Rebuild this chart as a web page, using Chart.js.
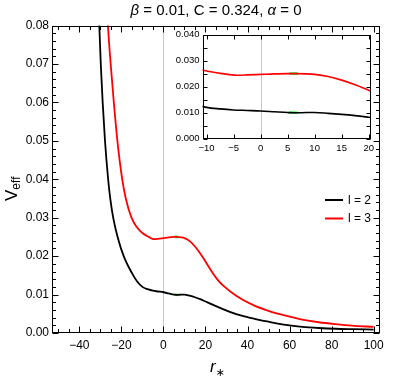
<!DOCTYPE html>
<html><head><meta charset="utf-8">
<script src="https://cdn.jsdelivr.net/npm/chart.js@4/dist/chart.umd.min.js"></script>
<style>
html,body{margin:0;padding:0;background:#fff;}
#wrap{position:relative;width:412px;height:378px;overflow:hidden;}
canvas{position:absolute;}
</style>
</head><body>
<div id="wrap">
<canvas id="main" width="412" height="378" style="left:0;top:0"></canvas>
<canvas id="inset" width="218" height="130" style="left:160px;top:26px"></canvas>
</div>
<script>
// ---- data ----
const rL2 = [-31.0,-30.5,-29.8,-28.9,-27.8,-26.3,-25.3,-23.9,-21.8,-18.9,-14.9,-12.5,-10.0,-7.5,-5.0,-2.5,0,2.5,5.0,6.5,8.5,10.0,12.5,15.0,17.5,20.0,22.0,25.0,28.3,31.6,34.6,38.5,42.5,46.5,50.3,58.2,66.0,73.9,81.8,90.0,100.0];
const vL2 = [0.0880,0.0800,0.0700,0.0600,0.0500,0.0400,0.0350,0.0300,0.0250,0.0200,0.0155,0.0134,0.0120,0.0114,0.0110,0.0108,0.0106,0.0103,0.0100,0.0099,0.0100,0.0100,0.0097,0.0093,0.0088,0.0082,0.0077,0.0070,0.0062,0.0055,0.0049,0.0043,0.0038,0.0033,0.0029,0.0021,0.0016,0.0013,0.0011,0.0010,0.0009];
const rL3 = [-27.0,-26.4,-25.1,-23.6,-21.9,-19.6,-17.9,-15.2,-12.6,-10.0,-7.0,-4.5,-2.5,0,2.5,5.0,6.5,8.5,10.0,12.5,15.0,17.5,20.0,23.6,26.0,28.3,34.6,42.5,50.3,58.2,66.0,73.9,81.8,89.6,100.0];
const vL3 = [0.0860,0.0800,0.0700,0.0600,0.0500,0.0400,0.0350,0.0300,0.0275,0.0260,0.0250,0.0244,0.0245,0.0247,0.0249,0.0250,0.0250,0.0249,0.0247,0.0239,0.0225,0.0207,0.0186,0.0155,0.0137,0.0124,0.0097,0.0073,0.0057,0.0045,0.0035,0.0028,0.0023,0.0019,0.0016];
const rPeak = [5.3, 6.9];
const vPeakL2 = [0.0100, 0.0099];
const vPeakL3 = [0.0250, 0.0250];
const seriesLabels = ['l = 2', 'l = 3'];
const seriesColors = ['#000000', '#ff0000'];
const peakColor = '#2cf02c';
const mainXTicks = [-40,-20,0,20,40,60,80,100];
const mainYTicks = [0,0.01,0.02,0.03,0.04,0.05,0.06,0.07,0.08];
const insetXTicks = [-10,-5,0,5,10,15,20];
const insetYTicks = [0,0.005,0.01,0.015,0.02,0.025,0.03,0.035,0.04];
const mainXMinor = [-50,-45,-35,-30,-25,-15,-10,-5,5,10,15,25,30,35,45,50,55,65,70,75,85,90,95];
const mainYMinor = [];
for (let i = 1; i < 40; i++) if (i % 5) mainYMinor.push(i * 0.002);

const FONT = '"Liberation Sans", Arial, sans-serif';
Chart.defaults.font.family = FONT;
Chart.defaults.color = '#000';

const pts = (xs, ys) => xs.map((x, i) => ({x: x, y: ys[i]}));
const fmtX = v => (v < 0 ? '\u2212' + Math.abs(v) : String(v));

function makeDatasets(lw, peakLw) {
  return [
    {label: seriesLabels[0], data: pts(rL2, vL2), borderColor: seriesColors[0], borderWidth: lw, pointRadius: 0, cubicInterpolationMode: 'monotone', clip: 0},
    {label: seriesLabels[1], data: pts(rL3, vL3), borderColor: seriesColors[1], borderWidth: lw, pointRadius: 0, cubicInterpolationMode: 'monotone', clip: 0},
    {label: 'peak2', data: pts(rPeak, vPeakL2), borderColor: peakColor, borderWidth: peakLw, pointRadius: 0, clip: 0},
    {label: 'peak3', data: pts(rPeak, vPeakL3), borderColor: peakColor, borderWidth: peakLw, pointRadius: 0, clip: 0}
  ];
}

function framePlugin(id, o) {
  return {
    id: id,
    beforeDatasetsDraw(chart) {
      const {ctx, chartArea: a, scales: {x}} = chart;
      const px = Math.round(x.getPixelForValue(0)) + 0.5;
      ctx.save();
      ctx.strokeStyle = '#c8c8c8';
      ctx.lineWidth = 1;
      ctx.beginPath(); ctx.moveTo(px, a.top); ctx.lineTo(px, a.bottom); ctx.stroke();
      ctx.restore();
    },
    afterDatasetsDraw(chart) {
      const {ctx, chartArea: a, scales: {x, y}} = chart;
      ctx.save();
      ctx.strokeStyle = '#000';
      ctx.lineWidth = 1;
      const L = Math.round(a.left) + 0.5, R = Math.round(a.right) - 0.5;
      const T = Math.round(a.top) + 0.5, B = Math.round(a.bottom) - 0.5;
      ctx.beginPath();
      const tx = (v, len) => { const p = Math.round(x.getPixelForValue(v)) + 0.5; ctx.moveTo(p, B); ctx.lineTo(p, B - len); ctx.moveTo(p, T); ctx.lineTo(p, T + len); };
      const ty = (v, len) => { const p = Math.round(y.getPixelForValue(v)) + 0.5; ctx.moveTo(L, p); ctx.lineTo(L + len, p); ctx.moveTo(R, p); ctx.lineTo(R - len, p); };
      o.xMajor.forEach(v => tx(v, o.major));
      o.yMajor.forEach(v => ty(v, o.major));
      (o.xMinor || []).forEach(v => tx(v, o.minor));
      (o.yMinor || []).forEach(v => ty(v, o.minor));
      ctx.stroke();
      ctx.strokeRect(L, T, R - L, B - T);
      ctx.restore();
    }
  };
}

const textPlugin = {
  id: 'texts',
  afterDraw(chart) {
    const ctx = chart.ctx;
    ctx.save();
    ctx.fillStyle = '#000';
    const parts = [
      ['\u03B2', 'italic 15px ' + FONT],
      [' = 0.01, C = 0.324, ', '15px ' + FONT],
      ['\u03B1', 'italic 15px ' + FONT],
      [' = 0', '15px ' + FONT]
    ];
    let total = 0;
    parts.forEach(p => { ctx.font = p[1]; total += ctx.measureText(p[0]).width; });
    let xx = (chart.chartArea.left + chart.chartArea.right) / 2 - total / 2;
    ctx.textBaseline = 'alphabetic';
    ctx.textAlign = 'left';
    parts.forEach(p => { ctx.font = p[1]; ctx.fillText(p[0], xx, 15); xx += ctx.measureText(p[0]).width; });
    ctx.font = 'italic 17px ' + FONT;
    const rw = ctx.measureText('r').width;
    const cx = (chart.chartArea.left + chart.chartArea.right) / 2;
    ctx.fillText('r', cx - 6, 372);
    ctx.font = '11px "DejaVu Sans", sans-serif';
    ctx.fillText('\u2217', cx - 6 + rw, 376);
    ctx.translate(17, 201);
    ctx.rotate(-Math.PI / 2);
    ctx.font = '17px ' + FONT;
    ctx.fillText('V', 0, 0);
    const vw = ctx.measureText('V').width;
    ctx.font = '12px ' + FONT;
    ctx.fillText('eff', vw, 3);
    ctx.restore();
    ctx.save();
    const ly = [200, 218.5];
    ctx.font = '12px ' + FONT;
    ctx.textBaseline = 'middle';
    for (let i = 0; i < 2; i++) {
      ctx.strokeStyle = seriesColors[i];
      ctx.lineWidth = 2;
      ctx.beginPath(); ctx.moveTo(325, ly[i]); ctx.lineTo(343, ly[i]); ctx.stroke();
      ctx.fillStyle = '#000';
      ctx.fillText(seriesLabels[i], 348, ly[i] + 0.5);
    }
    ctx.restore();
  }
};

new Chart(document.getElementById('main'), {
  type: 'line',
  data: {datasets: makeDatasets(1.8, 2.6)},
  options: {
    responsive: false, animation: false, events: [],
    layout: {padding: {top: 25.5, right: 32, left: 0, bottom: 0}},
    plugins: {legend: {display: false}, title: {display: false}, tooltip: {enabled: false}},
    scales: {
      x: {
        type: 'linear', min: -53, max: 103,
        afterBuildTicks: s => { s.ticks = mainXTicks.map(v => ({value: v})); },
        afterFit: s => { s.height = 45; },
        grid: {display: false, drawTicks: false}, border: {display: false},
        ticks: {font: {size: 12}, padding: 5, maxRotation: 0, callback: v => fmtX(v)}
      },
      y: {
        type: 'linear', min: 0, max: 0.08,
        afterBuildTicks: s => { s.ticks = mainYTicks.map(v => ({value: v})); },
        afterFit: s => { s.width = 52; },
        grid: {display: false, drawTicks: false}, border: {display: false},
        ticks: {font: {size: 12}, padding: 3, callback: v => v.toFixed(2)}
      }
    }
  },
  plugins: [framePlugin('mainFrame', {xMajor: mainXTicks, yMajor: mainYTicks, xMinor: mainXMinor, yMinor: mainYMinor, major: 6, minor: 3.5}), textPlugin]
});

new Chart(document.getElementById('inset'), {
  type: 'line',
  data: {datasets: makeDatasets(1.6, 2.6)},
  options: {
    responsive: false, animation: false, events: [],
    layout: {padding: {top: 8, right: 4, left: 0, bottom: 0}},
    plugins: {legend: {display: false}, title: {display: false}, tooltip: {enabled: false}},
    scales: {
      x: {
        type: 'linear', min: -10.75, max: 20.4,
        afterBuildTicks: s => { s.ticks = insetXTicks.map(v => ({value: v})); },
        afterFit: s => { s.height = 17.5; },
        grid: {display: false, drawTicks: false}, border: {display: false},
        ticks: {font: {size: 9.5}, padding: 4, maxRotation: 0, callback: v => fmtX(v)}
      },
      y: {
        type: 'linear', min: 0, max: 0.04,
        afterBuildTicks: s => { s.ticks = insetYTicks.map(v => ({value: v})); },
        afterFit: s => { s.width = 42.5; },
        grid: {display: false, drawTicks: false}, border: {display: false},
        ticks: {font: {size: 9.5}, padding: 3, callback: v => v.toFixed(3)}
      }
    }
  },
  plugins: [framePlugin('insetFrame', {xMajor: insetXTicks, yMajor: insetYTicks, major: 4, minor: 2})]
});
</script>
</body></html>
